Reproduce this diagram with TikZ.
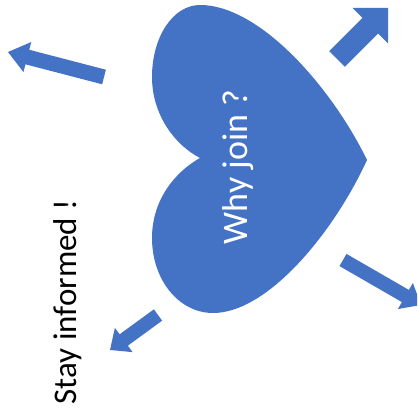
\documentclass[tikz,border=0pt]{standalone}
\usepackage{fontspec}
\setmainfont{Carlito}
\usetikzlibrary{calc}
\definecolor{heartblue}{RGB}{68,114,196}
\newcommand\blockarrow[5]{% tail, tip, half shaft, half head, head length
  \path ($(#2)!#5!(#1)$) coordinate (hb);
  \fill[heartblue] ($(#1)!#3!90:(#2)$) -- ($(hb)!#3!-90:(#1)$) -- ($(hb)!#4!-90:(#1)$) -- (#2)
    -- ($(hb)!#4!90:(#1)$) -- ($(hb)!#3!90:(#1)$) -- ($(#1)!#3!-90:(#2)$) -- cycle;}
\begin{document}
\begin{tikzpicture}[x=1pt,y=-1pt,
  vtext/.style={rotate=90,anchor=base,inner sep=0pt}]
\useasboundingbox (0,0) rectangle (417,417);
\fill[white] (0,0) rectangle (417,417);
\clip (0,0) rectangle (417,417);
% heart
\fill[heartblue] (200,158) .. controls (175,145) and (152,115) .. (152,77)
  .. controls (152,37) and (173,5) .. (200,5)
  .. controls (260,5) and (332,88) .. (367,160)
  .. controls (334,232) and (268,313) .. (213,313)
  .. controls (179,313) and (152,280) .. (152,238)
  .. controls (152,200) and (175,172) .. (200,158) -- cycle;
\node[vtext,text=white,font=\fontsize{36}{40}\selectfont] (why) at (247,167) {Why join ?};
\node[vtext,text=black,font=\fontsize{33}{38}\selectfont] (stay) at (76,302) {Stay informed !};
% arrows
\coordinate (tlA) at (104,77); \coordinate (tlB) at (8,52);
\coordinate (trA) at (337,59); \coordinate (trB) at (388,8);
\coordinate (blA) at (158,315); \coordinate (blB) at (110,350);
\coordinate (brA) at (343,260); \coordinate (brB) at (421,305);
\blockarrow{tlA}{tlB}{7.5pt}{15.5pt}{20pt}
\blockarrow{trA}{trB}{11pt}{25pt}{25pt}
\blockarrow{blA}{blB}{7pt}{15pt}{17pt}
\blockarrow{brA}{brB}{7pt}{15pt}{18pt}
\end{tikzpicture}
\end{document}
